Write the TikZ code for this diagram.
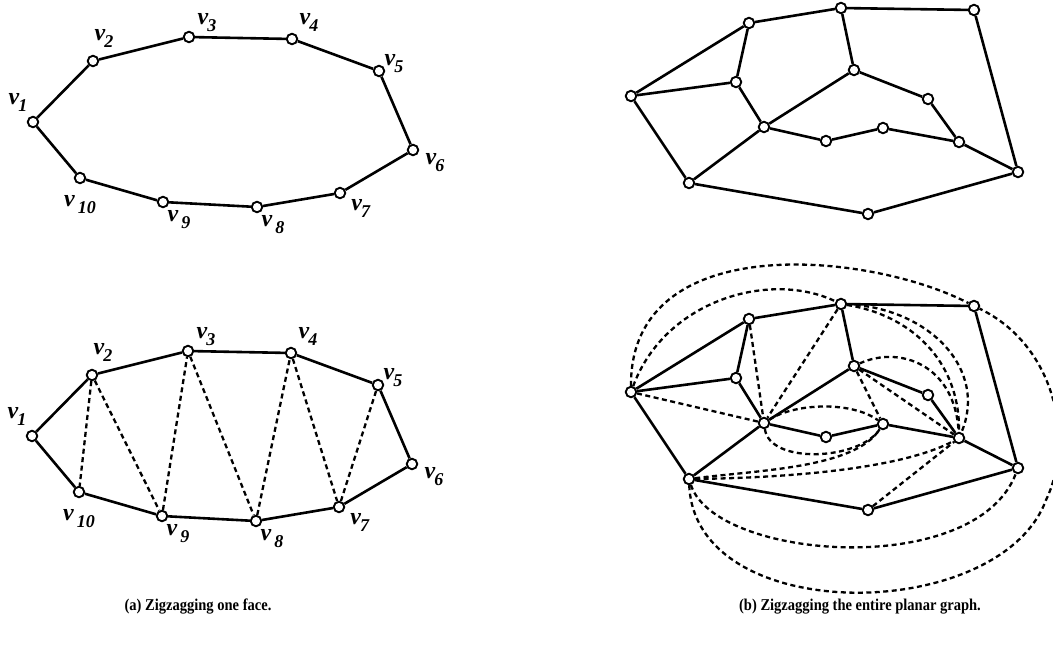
\documentclass[tikz,border=0pt]{standalone}
\usepackage{fontspec}
\setmainfont{Liberation Serif}
% vertex label: italic v with a lowered italic index
\newcommand{\vsub}[2][-1pt]{\textit{v}\kern#1\raisebox{-7pt}{\fontsize{18}{18}\selectfont\textit{#2}}}

\begin{document}
\begin{tikzpicture}[
    x=1pt, y=-1pt, % picture is laid out in pixel units, y going down
    vertex/.style={circle, draw, fill=white, line width=1.9pt, minimum size=10.5pt, inner sep=0pt},
    edge/.style={line width=2.6pt},
    zig/.style={line width=2.3pt, dash pattern=on 5pt off 3.5pt},
    lab/.style={font=\bfseries\fontsize{24}{24}\selectfont, inner sep=0pt},
    caption/.style={font=\bfseries\fontsize{16.5}{16.5}\selectfont, xscale=0.88}
]
    \useasboundingbox (0,0) rectangle (1053,646);

    % --- 1. ONE FACE v1 ... v10 ---
    \def\drawFace{
        \node[vertex] (v1) at (33,122) {};
        \node[vertex] (v2) at (93,61) {};
        \node[vertex] (v3) at (189,37) {};
        \node[vertex] (v4) at (292,39) {};
        \node[vertex] (v5) at (379,71) {};
        \node[vertex] (v6) at (413,150) {};
        \node[vertex] (v7) at (340,193) {};
        \node[vertex] (v8) at (257,207) {};
        \node[vertex] (v9) at (163,202) {};
        \node[vertex] (v10) at (80,178) {};
        % Labels
        \node[lab] (l1) at (18,102) {\vsub{1}};
        \node[lab] (l2) at (104,38) {\vsub{2}};
        \node[lab] (l3) at (207,23) {\vsub{3}};
        \node[lab] (l4) at (309,22) {\vsub{4}};
        \node[lab] (l5) at (394,64) {\vsub{5}};
        \node[lab] (l6) at (435,163) {\vsub{6}};
        \node[lab] (l7) at (361,208) {\vsub{7}};
        \node[lab] (l8) at (273,225) {\vsub[3pt]{8}};
        \node[lab] (l9) at (179,220) {\vsub[3pt]{9}};
        \node[lab] (l10) at (80,205) {\vsub[3pt]{10}};
        % Boundary of the face
        \draw[edge] (v1) -- (v2) -- (v3) -- (v4) -- (v5) -- (v6) -- (v7) -- (v8) -- (v9) -- (v10) -- (v1);
    }

    % --- 2. THE PLANAR GRAPH ---
    \def\drawPlanar{
        \node[vertex] (a) at (631,392) {};
        \node[vertex] (b) at (749,319) {};
        \node[vertex] (c) at (841,304) {};
        \node[vertex] (d) at (974,306) {};
        \node[vertex] (e) at (736,378) {};
        \node[vertex] (f) at (854,366) {};
        \node[vertex] (g) at (928,395) {};
        \node[vertex] (h) at (764,423) {};
        \node[vertex] (i) at (826,437) {};
        \node[vertex] (j) at (883,424) {};
        \node[vertex] (k) at (959,438) {};
        \node[vertex] (l) at (1018,468) {};
        \node[vertex] (m) at (689,479) {};
        \node[vertex] (n) at (868,510) {};
        % Edges
        \draw[edge] (a) -- (b) -- (c) -- (d) -- (l) -- (n) -- (m) -- (a);
        \draw[edge] (a) -- (e) -- (b);
        \draw[edge] (e) -- (h) -- (m);
        \draw[edge] (c) -- (f) -- (h);
        \draw[edge] (f) -- (g) -- (k) -- (l);
        \draw[edge] (h) -- (i) -- (j) -- (k);
    }

    % ==========================================
    % (a) Zigzagging one face
    % ==========================================
    \begin{scope}[name prefix=fa-]
        \drawFace
    \end{scope}

    \begin{scope}[shift={(-1,314)}, name prefix=fb-]
        \drawFace
        % Zigzag
        \draw[zig] (v2) -- (v10);
        \draw[zig] (v2) -- (v9) -- (v3) -- (v8) -- (v4) -- (v7) -- (v5);
    \end{scope}

    \node[caption] (capa) at (198,607) {(a) Zigzagging one face.};

    % ==========================================
    % (b) Zigzagging the entire planar graph
    % ==========================================
    \begin{scope}[shift={(0,-296)}, name prefix=pa-]
        \drawPlanar
    \end{scope}

    \begin{scope}[name prefix=pb-]
        \drawPlanar
        % Straight zigzag edges
        \draw[zig] (a) -- (h);
        \draw[zig] (b) -- (h);
        \draw[zig] (c) -- (h);
        \draw[zig] (f) -- (j);
        \draw[zig] (f) -- (k);
        \draw[zig] (n) -- (k);
        % Curved zigzag edges
        \draw[zig] (a) .. controls (665,300) and (770,270) .. (c);
        \draw[zig] (a) .. controls (630,228) and (870,252) .. (d);
        \draw[zig] (c) .. controls (910,315) and (960,360) .. (k);
        \draw[zig] (c) .. controls (930,308) and (988,370) .. (k);
        \draw[zig] (f) .. controls (900,345) and (955,365) .. (k);
        \draw[zig] (h) .. controls (795,403) and (852,401) .. (j);
        \draw[zig] (h) .. controls (770,465) and (860,460) .. (j);
        \draw[zig] (m) .. controls (760,470) and (855,468) .. (j);
        \draw[zig] (m) .. controls (780,478) and (900,470) .. (k);
        \draw[zig] (m) .. controls (715,560) and (975,580) .. (l);
        \draw[zig] (m) .. controls (695,628) and (1000,624) .. (1046,500)
                       .. controls (1075,440) and (1055,345) .. (d);
    \end{scope}

    \node[caption] (capb) at (860,607) {(b) Zigzagging the entire planar graph.};

\end{tikzpicture}
\end{document}
